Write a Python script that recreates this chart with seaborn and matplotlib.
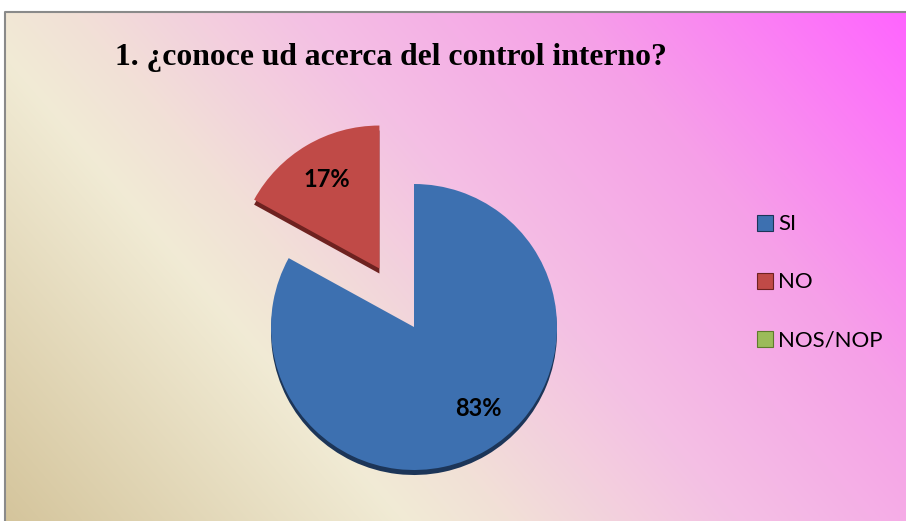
import numpy as np
import matplotlib
matplotlib.use("Agg")
import matplotlib.pyplot as plt
import seaborn as sns
from matplotlib.patches import Patch

# ---- data ----
categories = ["SI", "NO", "NOS/NOP"]
values = [83, 17, 0]
title = "1. ¿conoce ud acerca del control interno?"

sns.set_theme(style="white")
plt.rcParams['font.family'] = ['Lato', 'DejaVu Sans']

W, H = 906, 521
fig = plt.figure(figsize=(W / 100, H / 100), dpi=100)
fig.patch.set_facecolor('white')

# ---- gradient background ----
bg = fig.add_axes([0, 0, 1, 1], zorder=0)
yy, xx = np.mgrid[0:H, 0:W]
t = (500 * xx - 430 * yy + 224000) / 671840.0
stops_t = [0.0, 0.30, 0.38, 0.55, 0.75, 1.0]
stops_c = [(212, 196, 155), (241, 235, 213), (242, 224, 215),
           (244, 192, 228), (246, 160, 232), (255, 100, 255)]
img = np.zeros((H, W, 3))
for c in range(3):
    img[..., c] = np.interp(t, stops_t, [s[c] for s in stops_c]) / 255.0
img[:12, :, :] = 1.0
img[:, :5, :] = 1.0
bg.imshow(img, extent=(0, W, H, 0), aspect='auto', interpolation='bilinear')
bg.plot([5, 5, W], [H, 12, 12], color='#8a8a8a', lw=1.5)
bg.set_xlim(0, W)
bg.set_ylim(H, 0)
bg.axis('off')

# ---- pie ----
ax = fig.add_axes([185.2 / W, 36.7 / H, 457.6 / W, 386.1 / H], zorder=2)
colors = ['#3d70b0', '#c04a47', '#9bbb59']
dark = ['#1c3558', '#6e2220', '#5e7a2c']
explode = [0, 0.475, 0]
ax.pie(values, explode=explode, startangle=90, counterclock=False,
       colors=dark, center=(0, -0.035), wedgeprops=dict(linewidth=0))
wedges, texts, autotexts = ax.pie(
    values, explode=explode, startangle=90, counterclock=False,
    colors=colors, autopct=lambda p: f'{p:.0f}%' if p > 0 else '',
    pctdistance=0.72,
    textprops=dict(fontsize=17, fontweight='bold', color='black'),
    wedgeprops=dict(linewidth=0))
autotexts[0].set_position((0.45, -0.57))
ax.set_xlim(-1.6, 1.6)
ax.set_ylim(-1.1, 1.6)
ax.set_aspect('auto')
ax.axis('off')

# ---- title ----
fig.text(390.5 / W, 1 - 58 / H, title, ha='center', va='center',
         fontsize=22.8, fontweight='bold',
         family=['Liberation Serif', 'DejaVu Serif'], color='black')

# ---- legend ----
handles = [Patch(facecolor=colors[i], edgecolor=dark[i], linewidth=0.8)
           for i in range(len(categories))]
leg = fig.legend(handles, categories, loc='center left',
                 bbox_to_anchor=(757 / W, 1 - 282.5 / H),
                 frameon=False, fontsize=16, handlelength=0.7,
                 handleheight=0.7, handletextpad=0.25, labelspacing=1.71,
                 borderpad=0, borderaxespad=0)
for txt in leg.get_texts():
    txt.set_color('black')

fig.savefig('out.png', dpi=100)
